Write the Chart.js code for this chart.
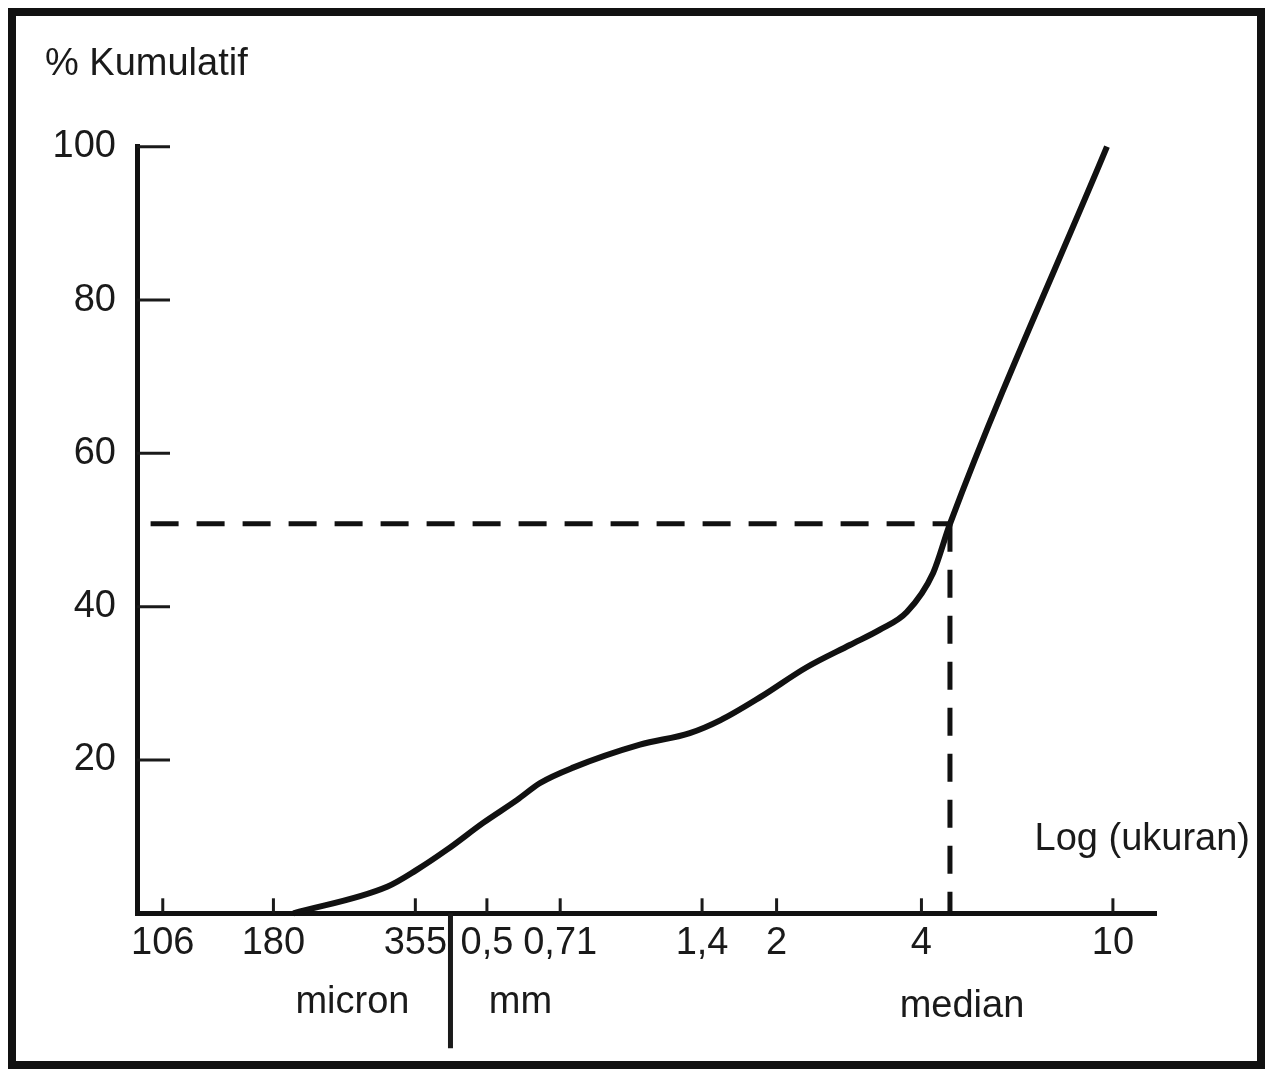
<!DOCTYPE html>
<html>
<head>
<meta charset="utf-8">
<script src="https://cdn.jsdelivr.net/npm/chart.js@4.4.1/dist/chart.umd.min.js"></script>
<style>
html,body{margin:0;padding:0;background:#fff;overflow:hidden;}
#wrap{position:relative;width:1265px;height:1069px;}
#frame{position:absolute;left:8px;top:8px;width:1241px;height:1045px;border:8px solid #111;pointer-events:none;}
canvas{position:absolute;left:0;top:0;}
</style>
</head>
<body>
<div id="wrap"><canvas id="c" width="1265" height="1069"></canvas><div id="frame"></div></div>
<script>
// ---- data ----
const sizes      = [0.198, 0.311, 0.356, 0.413, 0.491, 0.578, 0.645, 0.755, 1.04, 1.32, 1.53, 1.85, 2.31, 2.84, 3.28, 3.73, 4.23, 4.585, 9.72];
const cumulative = [0,     3.5,   5.6,   8.3,   11.8,  14.8,  17.0,  19.0,  22.0, 23.5, 25.2, 28.2, 32.1, 35.0, 37.0, 39.3, 44.4, 50.8,  100];
const xTickValues = [0.106, 0.18, 0.355, 0.5, 0.71, 1.4, 2, 4, 10];
const xTickLabels = ['106', '180', '355', '0,5', '0,71', '1,4', '2', '4', '10'];
const yTickValues = [20, 40, 60, 80, 100];
const medianSize = 4.585;
const medianPct = 50.8;
const dashStart = 0.1;
const unitBoundary = 0.42;
const yTitle = '% Kumulatif';
const xTitle = 'Log (ukuran)';
const unitLeft = 'micron';
const unitRight = 'mm';
const medianLabel = 'median';

const FONT = '"Liberation Sans", Arial, Helvetica, sans-serif';
const INK = '#1a1a1a';

const innerTicks = {
  id: 'innerTicks',
  afterDatasetsDraw(chart) {
    const {ctx, chartArea: a, scales: {x, y}} = chart;
    ctx.save();
    ctx.strokeStyle = INK;
    ctx.lineWidth = 3;
    yTickValues.forEach(v => {
      const py = y.getPixelForValue(v);
      ctx.beginPath(); ctx.moveTo(a.left, py); ctx.lineTo(a.left + 33, py); ctx.stroke();
    });
    xTickValues.forEach(v => {
      const px = x.getPixelForValue(v);
      ctx.beginPath(); ctx.moveTo(px, a.bottom); ctx.lineTo(px, a.bottom - 15); ctx.stroke();
    });
    // separator between micron and mm
    const sx = x.getPixelForValue(unitBoundary);
    ctx.lineWidth = 5;
    ctx.beginPath(); ctx.moveTo(sx, a.bottom); ctx.lineTo(sx, a.bottom + 135); ctx.stroke();
    ctx.restore();
  },
  afterDraw(chart) {
    const {ctx, scales: {x}} = chart;
    ctx.save();
    ctx.fillStyle = INK;
    ctx.font = '38px ' + FONT;
    ctx.textBaseline = 'alphabetic';
    ctx.textAlign = 'left';
    ctx.fillText(yTitle, 45, 75);
    ctx.textAlign = 'right';
    ctx.fillText(xTitle, 1250, 850);
    const sx = x.getPixelForValue(unitBoundary);
    ctx.textAlign = 'center';
    ctx.fillText(unitLeft, sx - 98, 1013);
    ctx.fillText(unitRight, sx + 70, 1013);
    ctx.fillText(medianLabel, x.getPixelForValue(medianSize) + 12, 1017);
    ctx.restore();
  }
};

const dashStyle = {borderColor: '#111', borderWidth: 5, borderDash: [28, 18], pointRadius: 0, tension: 0, fill: false, clip: false, order: 1};

new Chart(document.getElementById('c'), {
  type: 'line',
  data: {
    datasets: [
      {
        data: sizes.map((s, i) => ({x: s, y: cumulative[i]})),
        borderColor: '#111', borderWidth: 6, pointRadius: 0,
        cubicInterpolationMode: 'monotone',
        borderJoinStyle: 'round', borderCapStyle: 'butt',
        fill: false, clip: false, order: 0
      },
      Object.assign({data: [{x: dashStart, y: medianPct}, {x: medianSize, y: medianPct}]}, dashStyle),
      Object.assign({data: [{x: medianSize, y: medianPct}, {x: medianSize, y: 0}]}, dashStyle)
    ]
  },
  options: {
    responsive: false,
    animation: false,
    devicePixelRatio: 1,
    layout: {padding: {left: 0, top: 146.7, right: 109, bottom: 0}},
    plugins: {legend: {display: false}, tooltip: {enabled: false}},
    scales: {
      x: {
        type: 'logarithmic', min: 0.0937, max: 12.29,
        afterBuildTicks(s) { s.ticks = xTickValues.map(v => ({value: v})); },
        afterFit(s) { s.height = 155.7; },
        grid: {display: false, drawTicks: false},
        border: {display: true, color: '#111', width: 5},
        ticks: {autoSkip: false, maxRotation: 0, minRotation: 0, padding: 7, color: INK,
          font: {family: FONT, size: 38}, callback: (v, i) => xTickLabels[i]}
      },
      y: {
        type: 'linear', min: 0, max: 100,
        afterBuildTicks(s) { s.ticks = yTickValues.map(v => ({value: v})); },
        afterFit(s) { s.width = 137; },
        grid: {display: false, drawTicks: false},
        border: {display: true, color: '#111', width: 5},
        ticks: {padding: 21, color: INK, font: {family: FONT, size: 38}, callback: v => String(v)}
      }
    }
  },
  plugins: [innerTicks]
});
</script>
</body>
</html>
